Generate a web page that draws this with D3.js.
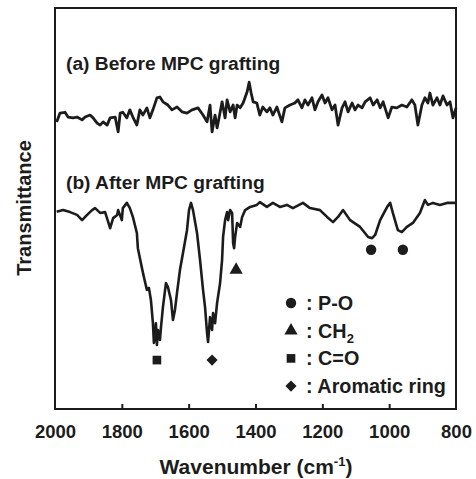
<!DOCTYPE html>
<html>
<head>
<meta charset="utf-8">
<script src="https://cdn.jsdelivr.net/npm/d3@7"></script>
<style>
  html, body { margin: 0; padding: 0; background: #fff; }
  svg { display: block; font-family: "Liberation Sans", Arial, sans-serif; font-weight: bold; }
</style>
</head>
<body>
<svg id="chart" width="476" height="479"></svg>
<script>
// ---- data (wavenumber in cm-1, transmittance in arbitrary units) ----
const wnA = [1995,1985,1970,1961,1946,1934,1919,1910,1895,1886,1874,1865,1856,1844,1835,1820,1811,1805,1797,1785,1776,1767,1755,1746,1737,1725,1716,1707,1695,1686,1677,1662,1650,1635,1620,1605,1590,1572,1557,1545,1536,1530,1521,1515,1512,1500,1491,1485,1476,1467,1461,1455,1446,1437,1425,1419,1413,1407,1396,1387,1378,1366,1357,1348,1336,1321,1312,1297,1282,1273,1261,1252,1243,1231,1222,1213,1201,1192,1183,1171,1162,1153,1141,1132,1123,1111,1102,1093,1081,1072,1057,1048,1036,1027,1018,1003,992,977,962,947,932,923,914,902,893,884,878,869,857,848,839,827,818,809,800];
const tA = [71.6,73.8,74.0,72.8,72.6,72.8,72.1,72.8,73.3,72.6,71.3,70.8,71.6,70.8,72.6,72.8,69.1,73.8,74.0,72.6,74.6,72.8,70.8,74.6,73.3,75.1,72.6,74.6,77.6,77.8,76.6,75.8,74.6,75.3,74.1,73.8,74.6,75.1,73.3,71.6,75.8,69.1,73.3,70.1,71.3,76.6,72.6,77.1,74.1,75.8,72.6,75.8,75.1,76.3,79.1,81.5,78.8,76.6,76.3,73.3,75.3,74.1,75.1,73.3,75.3,71.6,75.1,75.8,76.3,77.1,75.1,77.1,75.8,77.6,74.6,76.6,78.3,76.3,77.6,74.6,75.8,70.8,75.1,76.6,74.1,76.3,74.6,75.8,75.1,76.6,77.6,75.8,77.1,75.1,76.6,72.6,75.3,75.1,75.8,75.3,77.1,75.8,70.8,75.8,77.6,76.3,78.8,75.8,77.6,75.8,78.1,75.8,76.6,72.6,75.1];

const wnB = [1995,1976,1955,1934,1919,1904,1889,1880,1865,1850,1835,1826,1814,1811,1800,1797,1785,1776,1767,1755,1752,1740,1734,1725,1719,1713,1707,1704,1698,1695,1692,1686,1683,1677,1668,1662,1653,1647,1641,1635,1626,1617,1605,1599,1593,1587,1575,1566,1557,1551,1545,1542,1536,1530,1527,1521,1515,1506,1500,1497,1491,1485,1482,1476,1470,1467,1464,1461,1455,1446,1440,1431,1416,1396,1387,1366,1348,1327,1306,1288,1258,1237,1207,1186,1168,1153,1138,1117,1087,1063,1051,1042,1027,1006,997,989,974,962,947,929,908,893,884,869,848,827,800];
const tB = [49.2,49.6,49.1,48.4,47.1,48.4,49.6,50.1,48.9,49.1,45.1,47.6,48.4,49.6,47.1,50.1,51.4,50.1,47.9,43.9,40.1,35.2,32.9,29.7,30.2,27.2,21.4,16.5,21.4,16.0,19.7,17.2,20.2,25.4,31.4,30.4,27.2,22.2,24.7,28.9,34.7,38.9,44.6,49.6,51.4,49.6,43.9,37.2,29.7,25.4,19.0,16.7,22.9,19.7,23.9,21.4,26.4,31.4,37.2,42.9,47.1,49.1,47.1,49.6,48.9,41.4,40.1,42.9,46.4,45.4,47.9,49.6,50.4,50.9,51.6,50.4,51.4,50.4,50.9,50.1,51.4,50.1,49.6,47.9,46.6,47.9,49.6,47.1,45.4,42.9,42.6,43.4,47.1,50.4,51.4,48.9,44.6,44.1,45.4,46.4,48.9,52.1,50.9,51.4,50.9,51.4,51.4];

// peak assignment markers
const markWn    = [1054, 959, 1458, 1695, 1530];
const markT     = [39.7, 39.7, 34.7, 12.2, 12.2];
const markShape = ["circle", "circle", "triangle", "square", "diamond"];

const legendShapes = ["circle", "triangle", "square", "diamond"];
const legendLabels = [": P-O", ": CH", ": C=O", ": Aromatic ring"];
const legendSubs   = ["", "2", "", ""];

const seriesLabels = ["(a) Before MPC grafting", "(b) After MPC grafting"];
const xTicks = [2000, 1800, 1600, 1400, 1200, 1000, 800];

// ---- layout ----
const L = 55, R = 456, T = 8, B = 409;
const ink = "#1c1c1c";
const svg = d3.select("#chart");

const x = d3.scaleLinear().domain([2000, 800]).range([L, R]);
const y = d3.scaleLinear().domain([0, 100]).range([B, T]);

// axis
const axis = d3.axisBottom(x).tickValues(xTicks).tickSizeInner(-5).tickSizeOuter(0).tickPadding(16).tickFormat(d3.format("d"));
const gx = svg.append("g").attr("transform", `translate(0,${B})`).call(axis);
gx.select(".domain").remove();
gx.selectAll(".tick line").attr("stroke", ink).attr("stroke-width", 2);
gx.selectAll(".tick line").filter(d => d === 2000 || d === 800).remove();
gx.selectAll(".tick text").attr("fill", ink).style("font-size", "18.5px").style("font-weight", "bold").style("font-family", "'Liberation Sans', Arial, sans-serif");

// frame
svg.append("rect").attr("x", L).attr("y", T).attr("width", R - L).attr("height", B - T)
  .attr("fill", "none").attr("stroke", ink).attr("stroke-width", 2);

// lines
const line = d3.line().x(d => x(d[0])).y(d => y(d[1]));
svg.append("path").datum(d3.zip(wnA, tA)).attr("d", line)
  .attr("fill", "none").attr("stroke", ink).attr("stroke-width", 2.8).attr("stroke-linejoin", "round");
svg.append("path").datum(d3.zip(wnB, tB)).attr("d", line)
  .attr("fill", "none").attr("stroke", ink).attr("stroke-width", 2.6).attr("stroke-linejoin", "round");

// symbols
const symType = { circle: d3.symbolCircle, triangle: d3.symbolTriangle, square: d3.symbolSquare, diamond: d3.symbolSquare };
const symSize = { circle: 85, triangle: 75, square: 75, diamond: 62 };
const symRot  = { circle: 0, triangle: 0, square: 0, diamond: 45 };
function sym(s) { return d3.symbol().type(symType[s]).size(symSize[s])(); }

svg.selectAll(".mark").data(d3.range(markWn.length)).join("path")
  .attr("transform", i => `translate(${x(markWn[i])},${y(markT[i])}) rotate(${symRot[markShape[i]]})`)
  .attr("d", i => sym(markShape[i])).attr("fill", ink);

// series labels
svg.append("text").attr("x", 66).attr("y", 70).attr("fill", ink).style("font-size", "19.2px").text(seriesLabels[0]);
svg.append("text").attr("x", 66).attr("y", 189).attr("fill", ink).style("font-size", "19.2px").text(seriesLabels[1]);

// legend
const legY0 = 303, legDy = 27.7;
legendShapes.forEach((s, i) => {
  const cy = legY0 + i * legDy;
  svg.append("path").attr("transform", `translate(291,${cy}) rotate(${symRot[s]})`).attr("d", sym(s)).attr("fill", ink);
  const t = svg.append("text").attr("x", 306).attr("y", cy + 7).attr("fill", ink).style("font-size", "19.8px").text(legendLabels[i]);
  if (legendSubs[i]) t.append("tspan").attr("dy", 5).style("font-size", "13px").text(legendSubs[i]);
});

// axis titles
const xt = svg.append("text").attr("x", 256).attr("y", 474).attr("text-anchor", "middle").attr("fill", ink).style("font-size", "21px").text("Wavenumber (cm");
xt.append("tspan").attr("dy", -8).style("font-size", "13px").text("-1");
xt.append("tspan").attr("dy", 8).text(")");

svg.append("text").attr("transform", "translate(31,208) rotate(-90)").attr("text-anchor", "middle").attr("fill", ink).style("font-size", "20px").text("Transmittance");
</script>
</body>
</html>
